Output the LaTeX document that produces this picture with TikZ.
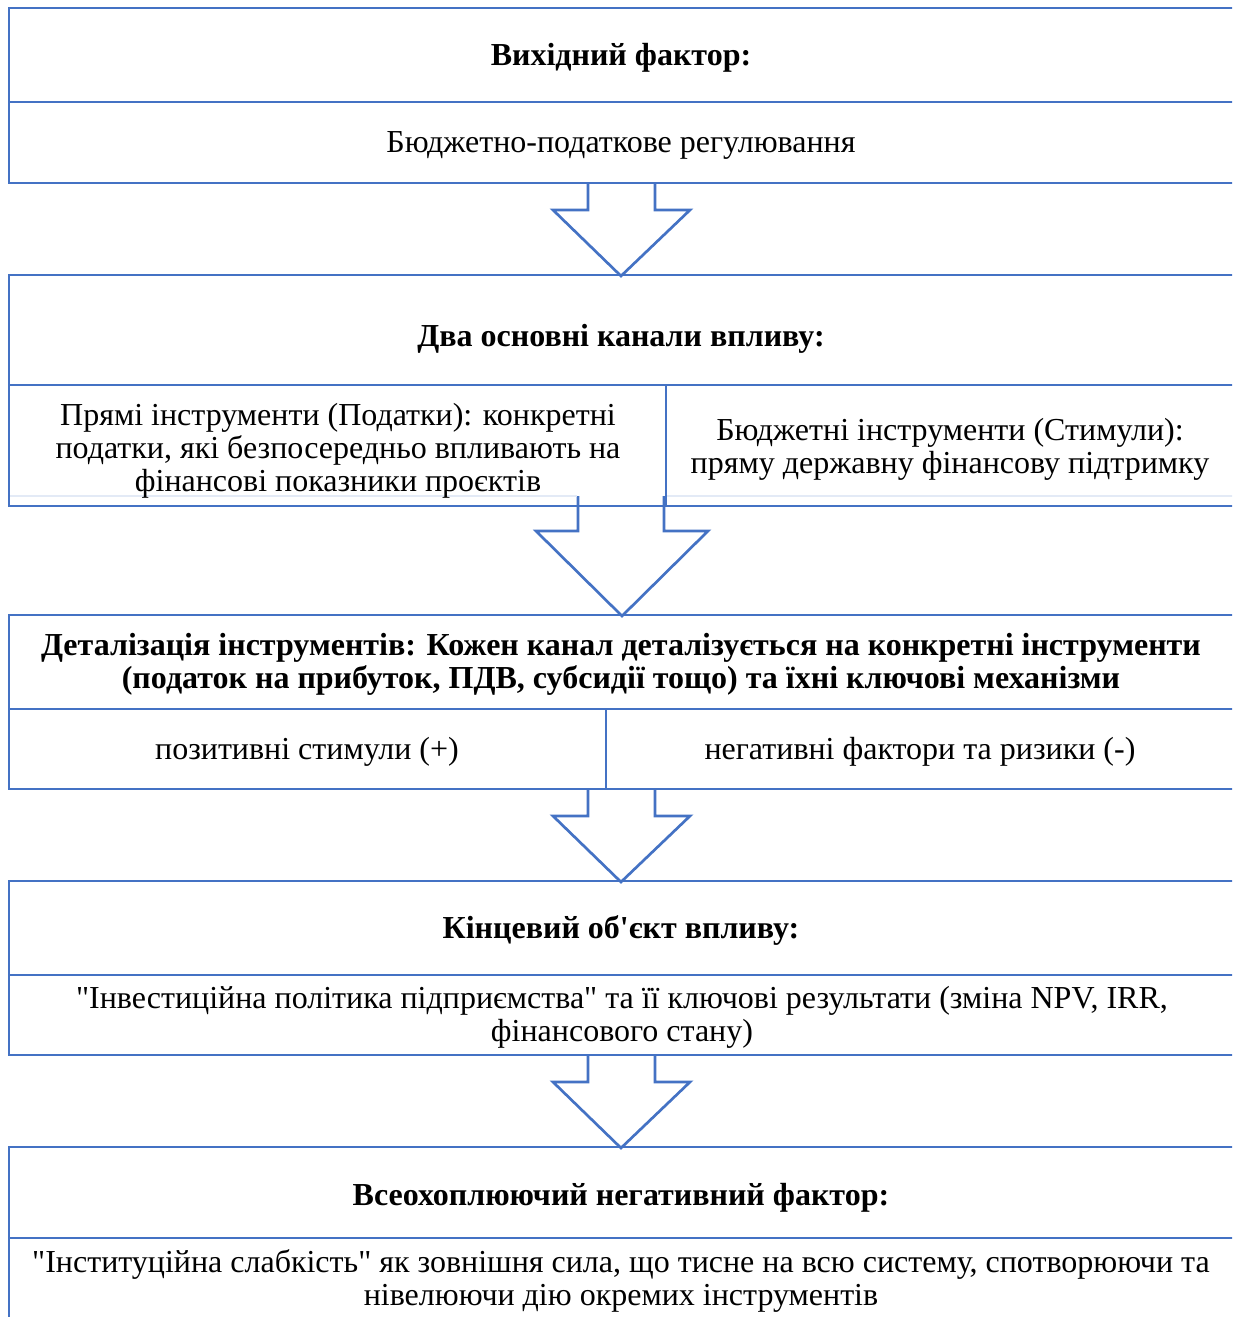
\documentclass[tikz,border=0pt]{standalone}
\usepackage{fontspec}
\setmainfont{Liberation Serif}[Ligatures=TeXOff]
\usetikzlibrary{calc}
\definecolor{frame}{HTML}{4472C4}
\definecolor{faint}{HTML}{E3EAF6}
\tikzset{
  boxline/.style={draw=frame, line width=2.2pt},
  divline/.style={draw=frame, line width=2pt},
  barrow/.style={draw=frame, line width=2pt, fill=white, line join=miter},
  txt/.style={inner sep=0pt, anchor=base, align=center, font=\fontsize{24}{24.75}\selectfont},
  btxt/.style={txt, font=\fontsize{24}{24.75}\selectfont\bfseries},
}
\begin{document}
\begin{tikzpicture}[x=0.75pt,y=-0.75pt]
\useasboundingbox (0,0) rectangle (1232,1317);
\clip (0,0) rectangle (1232,1317);
\fill[white] (0,0) rectangle (1232,1317);

% anchor points of the block arrows
\coordinate (b1) at (621,183);
\coordinate (a2) at (621,276);
\coordinate (b2) at (621,496);
\coordinate (a3) at (622,616);
\coordinate (b3) at (621,789);
\coordinate (a4) at (621,882);
\coordinate (b4) at (621,1055);
\coordinate (a5) at (621,1148);

% ---- block arrows (drawn below the box frames)
\draw[barrow] ($(b1)+(-33,0)$) -- ++(0,27) -- ++(-35,0) -- (a2) -- ($(b1)+(69,27)$) -- ++(-35,0) -- ++(0,-27);
\draw[barrow] ($(b2)+(-43,0)$) -- ++(0,35) -- ++(-42,0) -- (a3) -- ($(b2)+(87,35)$) -- ++(-44,0) -- ++(0,-35);
\draw[barrow] ($(b3)+(-33,0)$) -- ++(0,27) -- ++(-35,0) -- (a4) -- ($(b3)+(69,27)$) -- ++(-35,0) -- ++(0,-27);
\draw[barrow] ($(b4)+(-33,0)$) -- ++(0,27) -- ++(-35,0) -- (a5) -- ($(b4)+(69,27)$) -- ++(-35,0) -- ++(0,-27);

% ---- box 1
\draw[boxline] (9,8) rectangle (1240,183);
\draw[divline] (9,102) -- (1240,102);
\node[btxt] (t1) at (621,65) {Вихідний фактор:};
\node[txt] (s1) at (621,152) {Бюджетно-податкове регулювання};

% ---- box 2
\draw[faint, line width=1.5pt] (9,496) -- (577,496) (667,496) -- (1240,496);
\draw[boxline] (9,275) rectangle (1240,506);
\draw[divline] (9,385) -- (1240,385);
\draw[divline] (666,385) -- (666,506);
\node[btxt] (t2) at (621,346) {Два основні канали впливу:};
\node[txt] (s2a) at (338,491) {Прямі інструменти (Податки): конкретні\\податки, які безпосередньо впливають на\\фінансові показники проєктів};
\node[txt] (s2b) at (950,473) {Бюджетні інструменти (Стимули):\\пряму державну фінансову підтримку};

% ---- box 3
\draw[boxline] (9,615) rectangle (1240,789);
\draw[divline] (9,709) -- (1240,709);
\draw[divline] (606,709) -- (606,789);
\node[btxt] (t3) at (621,688) {Деталізація інструментів: Кожен канал деталізується на конкретні інструменти\\(податок на прибуток, ПДВ, субсидії тощо) та їхні ключові механізми};
\node[txt] (s3a) at (307,759) {позитивні стимули (+)};
\node[txt] (s3b) at (920,759) {негативні фактори та ризики (-)};

% ---- box 4
\draw[boxline] (9,881) rectangle (1240,1055);
\draw[divline] (9,975) -- (1240,975);
\node[btxt] (t4) at (621,938) {Кінцевий об'єкт впливу:};
\node[txt] (s4) at (622,1041) {"Інвестиційна політика підприємства" та її ключові результати (зміна NPV, IRR,\\фінансового стану)};

% ---- box 5
\draw[boxline] (9,1147) rectangle (1240,1340);
\draw[divline] (9,1238) -- (1240,1238);
\node[btxt] (t5) at (621,1205) {Всеохоплюючий негативний фактор:};
\node[txt] (s5) at (621,1305) {"Інституційна слабкість" як зовнішня сила, що тисне на всю систему, спотворюючи та\\нівелюючи дію окремих інструментів};
\end{tikzpicture}
\end{document}
